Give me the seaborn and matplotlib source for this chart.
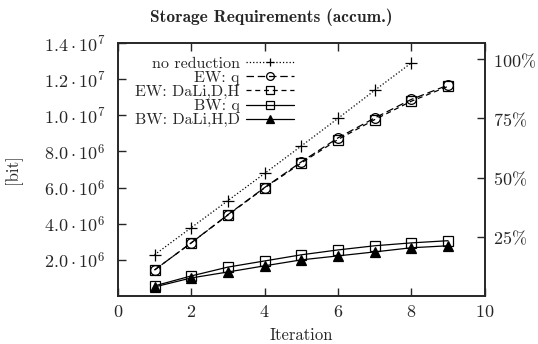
import matplotlib
matplotlib.use('Agg')
import matplotlib.pyplot as plt
import seaborn as sns

sns.set_style('ticks')
plt.rcParams['font.family'] = ['cmr10', 'DejaVu Serif']
plt.rcParams['mathtext.fontset'] = 'cm'
plt.rcParams['axes.formatter.use_mathtext'] = True

iterations = [1, 2, 3, 4, 5, 6, 7, 8, 9]
no_reduction = [2.28e6, 3.78e6, 5.28e6, 6.78e6, 8.3e6, 9.83e6, 11.38e6, 12.9e6]
ew_q = [1.44e6, 2.94e6, 4.5e6, 6.0e6, 7.42e6, 8.75e6, 9.85e6, 10.88e6, 11.67e6]
ew_dali = [1.44e6, 2.94e6, 4.48e6, 5.98e6, 7.36e6, 8.66e6, 9.76e6, 10.78e6, 11.6e6]
bw_q = [0.56e6, 1.11e6, 1.6e6, 1.94e6, 2.28e6, 2.55e6, 2.78e6, 2.94e6, 3.06e6]
bw_dali = [0.5e6, 1.0e6, 1.33e6, 1.67e6, 2.0e6, 2.22e6, 2.44e6, 2.67e6, 2.78e6]

x_ticks = [0, 2, 4, 6, 8, 10]
y_ticks = [2e6, 4e6, 6e6, 8e6, 1e7, 1.2e7, 1.4e7]
y_tick_labels = [r'$2.0\cdot10^{6}$', r'$4.0\cdot10^{6}$', r'$6.0\cdot10^{6}$',
                 r'$8.0\cdot10^{6}$', r'$1.0\cdot10^{7}$', r'$1.2\cdot10^{7}$',
                 r'$1.4\cdot10^{7}$']
pct_ticks = [25, 50, 75, 100]
full_size = 1.31e7  # value that maps to 100%

fig = plt.figure(figsize=(5.38, 3.44), dpi=100)
ax = fig.add_axes([0.219, 0.1395, 0.682, 0.7355])

series = [
    ('no reduction', iterations[:8], no_reduction, dict(linestyle=':', marker='+', markersize=8, linewidth=0.9)),
    ('EW: q', iterations, ew_q, dict(linestyle=(0, (6, 3)), marker='o', markersize=7, markerfacecolor='none', linewidth=0.9)),
    ('EW: DaLi,D,H', iterations, ew_dali, dict(linestyle=(0, (4, 3)), marker='s', markersize=7, markerfacecolor='none', linewidth=0.9)),
    ('BW: q', iterations, bw_q, dict(linestyle='-', marker='s', markersize=7, markerfacecolor='none', linewidth=0.9)),
    ('BW: DaLi,H,D', iterations, bw_dali, dict(linestyle='-', marker='^', markersize=6.5, linewidth=0.9)),
]
for label, xs, ys, style in series:
    sns.lineplot(x=xs, y=ys, ax=ax, color='black', label=label,
                 markeredgecolor='black', markeredgewidth=0.9, **style)

ax.set_xlim(0, 10)
ax.set_ylim(0, 1.4e7)
ax.set_xticks(x_ticks)
ax.set_xticklabels([f'${t}$' for t in x_ticks])
ax.set_yticks(y_ticks)
ax.set_yticklabels(y_tick_labels)
ax.tick_params(axis='y', direction='in', length=6, width=1, labelsize=13, pad=9)
ax.tick_params(axis='x', direction='in', length=6, width=1, labelsize=13, top=True,
               labeltop=False, pad=6)
for s in ax.spines.values():
    s.set_linewidth(1.2)

ax2 = ax.twinx()
ax2.set_ylim(0, 1.4e7 / full_size * 100)
ax2.set_yticks(pct_ticks)
ax2.set_yticklabels([rf'${p}\%$' for p in pct_ticks])
ax2.tick_params(direction='in', length=6, width=1, labelsize=13, pad=6)
for s in ax2.spines.values():
    s.set_linewidth(1.2)

ax.set_xlabel('Iteration', fontsize=12, labelpad=5)
ax.set_ylabel('[bit]', fontsize=12, labelpad=16)
fig.suptitle('Storage Requirements (accum.)', x=0.505, y=0.975, fontsize=12.5,
             family=['cmb10', 'DejaVu Serif'])

leg = ax.legend(loc='upper left', bbox_to_anchor=(0.02, 0.985), frameon=False,
                markerfirst=False, fontsize=11.5, handlelength=3.0,
                labelspacing=0.0, handletextpad=0.4, borderaxespad=0.2,
                markerscale=0.8)

fig.savefig('out.png', dpi=100)
